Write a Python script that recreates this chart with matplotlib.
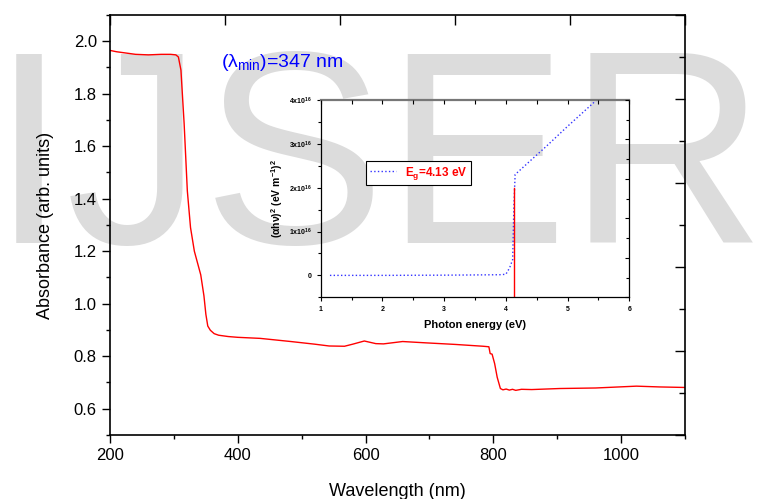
import matplotlib
matplotlib.use('Agg')
import matplotlib.pyplot as plt
from matplotlib.ticker import MultipleLocator

plt.rcParams['font.family'] = ['Liberation Sans', 'DejaVu Sans']
plt.rcParams['mathtext.fontset'] = 'custom'
plt.rcParams['mathtext.rm'] = 'Liberation Sans'
plt.rcParams['mathtext.it'] = 'Liberation Sans:italic'
plt.rcParams['mathtext.bf'] = 'Liberation Sans:bold'

# absorbance spectrum
wavelength = [200, 210, 225, 240, 260, 280, 295, 303, 307, 311, 316, 321, 326, 332,
              342, 347, 350, 353, 357, 363, 370, 385, 400, 435, 483, 520, 543, 567,
              580, 598, 616, 628, 658, 694, 740, 784, 793, 795, 798, 802, 806, 811,
              815, 820, 825, 830, 835, 844, 860, 904, 960, 1024, 1060, 1100]
absorbance = [1.965, 1.960, 1.955, 1.950, 1.948, 1.950, 1.950, 1.948, 1.940, 1.890,
              1.686, 1.430, 1.290, 1.200, 1.110, 1.030, 0.960, 0.915, 0.899, 0.886,
              0.880, 0.875, 0.872, 0.868, 0.856, 0.846, 0.839, 0.838, 0.846, 0.858,
              0.848, 0.847, 0.856, 0.851, 0.845, 0.838, 0.836, 0.810, 0.808, 0.772,
              0.720, 0.677, 0.672, 0.675, 0.671, 0.674, 0.670, 0.674, 0.673, 0.677,
              0.679, 0.686, 0.683, 0.681]

# Tauc plot (inset)
photon_energy = [1.15, 2.0, 3.0, 3.5, 3.9, 4.0, 4.06, 4.11, 4.13, 4.15, 4.4, 4.66, 5.0, 5.47]
tauc = [0.0, 0.0, 0.005, 0.01, 0.015, 0.025, 0.17, 0.36, 1.58, 2.3, 2.62, 2.95, 3.4, 4.0]
tauc = [v * 1e16 for v in tauc]
eg = 4.137
eg_line_y = [-0.5e16, 2.0e16]

inset_yticks = [0, 1e16, 2e16, 3e16, 4e16]
inset_ylabels = ['0', r'$\mathbf{1x10^{16}}$', r'$\mathbf{2x10^{16}}$',
                 r'$\mathbf{3x10^{16}}$', r'$\mathbf{4x10^{16}}$']

fig = plt.figure(figsize=(7.63, 4.99), dpi=100)

# watermark, behind everything
fig.text(-0.012, 1 - 243 / 499, 'IJSER', fontsize=197, color='#dcdcdc',
         va='baseline', ha='left', zorder=-10)

ax = fig.add_axes([0.1442, 0.1283, 0.7536, 0.8417])
ax.patch.set_alpha(0)
ax.plot(wavelength, absorbance, color='red', lw=1)
ax.set_xlim(200, 1100)
ax.set_ylim(0.5, 2.1)
ax.xaxis.set_major_locator(MultipleLocator(200))
ax.xaxis.set_minor_locator(MultipleLocator(100))
ax.yaxis.set_major_locator(MultipleLocator(0.2))
ax.yaxis.set_minor_locator(MultipleLocator(0.1))
ax.yaxis.set_major_formatter(lambda v, p: f'{v:.1f}')
ax.tick_params(which='both', direction='out', labelsize=12, width=1)
ax.tick_params(which='major', length=6)
ax.tick_params(which='minor', length=3)
for s in ax.spines.values():
    s.set_linewidth(1.2)
ax.set_xlabel('Wavelength (nm)', fontsize=13, labelpad=14)
ax.set_ylabel('Absorbance (arb. units)', fontsize=13, labelpad=14)
ax.text(373, 1.92, '(λ$_{\\rm min}$)=347 nm', color='blue', fontsize=14,
        va='center')

# top / right frame ticks (separate layer)
fr = fig.add_axes(ax.get_position(), frameon=False)
fr.set_xlim(0, 10)
fr.set_ylim(0, 10)
fr.xaxis.set_major_locator(MultipleLocator(2))
fr.yaxis.set_major_locator(MultipleLocator(2))
fr.yaxis.set_minor_locator(MultipleLocator(1))
fr.tick_params(which='both', direction='in', top=True, right=True, bottom=False,
               left=False, labelbottom=False, labelleft=False, width=1)
fr.tick_params(which='major', length=7)
fr.tick_params(which='minor', length=4)

# inset
ins = fig.add_axes([0.4203, 0.4042, 0.4045, 0.3954])
ins.patch.set_alpha(0)
ins.plot(photon_energy, tauc, color='#3333ff', lw=1, ls=':', label=' ')
ins.plot([eg, eg], eg_line_y, color='red', lw=1)
ins.set_xlim(1, 6)
ins.set_ylim(-0.5e16, 4e16)
ins.xaxis.set_major_locator(MultipleLocator(1))
ins.xaxis.set_minor_locator(MultipleLocator(0.5))
ins.set_yticks(inset_yticks, inset_ylabels)
ins.yaxis.set_minor_locator(MultipleLocator(0.5e16))
ins.tick_params(which='both', direction='out', labelsize=5, width=0.8)
ins.tick_params(which='major', length=3)
ins.tick_params(which='minor', length=2)
for lab in ins.get_xticklabels() + ins.get_yticklabels():
    lab.set_fontweight('bold')
for s in ins.spines.values():
    s.set_linewidth(0.9)
ins.spines['top'].set_color('#777777')
ins.spines['top'].set_linewidth(1.6)
ins.set_xlabel('Photon energy (eV)', fontsize=8, fontweight='bold', labelpad=5)
ins.set_ylabel(r'$\mathbf{(\alpha h\nu)^2\ (eV\ m^{-1})^2}$', fontsize=7.5, labelpad=3)
leg = ins.legend(loc='upper left', bbox_to_anchor=(0.147, 0.691), borderaxespad=0,
                 fancybox=False, edgecolor='black', framealpha=1, handlelength=2.2,
                 borderpad=0.3, fontsize=8.5)
leg.get_frame().set_linewidth(0.8)
leg.get_texts()[0].set_text(r'$\mathbf{E_g}$=4.13 eV')
leg.get_texts()[0].set_color('red')
leg.get_texts()[0].set_fontweight('bold')

ifr = fig.add_axes(ins.get_position(), frameon=False)
ifr.set_xlim(0, 10)
ifr.set_ylim(0, 10)
ifr.xaxis.set_major_locator(MultipleLocator(1))
ifr.yaxis.set_major_locator(MultipleLocator(2))
ifr.yaxis.set_minor_locator(MultipleLocator(1))
ifr.tick_params(which='both', direction='in', top=True, right=True, bottom=False,
                left=False, labelbottom=False, labelleft=False, width=0.8)
ifr.tick_params(which='major', length=3)
ifr.tick_params(which='minor', length=2)

fig.savefig('out.png', dpi=100)
